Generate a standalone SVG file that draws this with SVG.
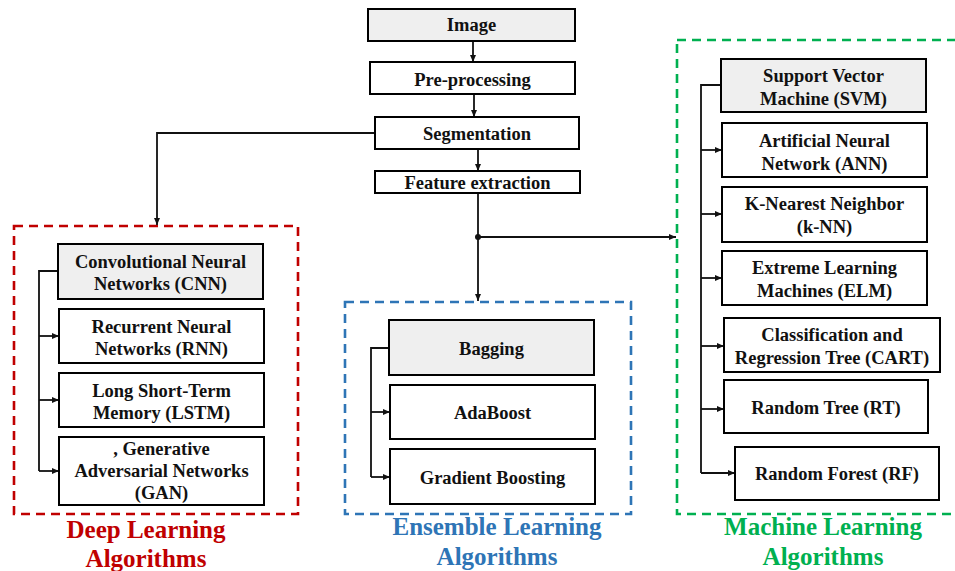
<svg xmlns="http://www.w3.org/2000/svg" width="955" height="571" viewBox="0 0 955 571">
<style>
.box{fill:#ffffff;stroke:#000;stroke-width:2}
.hd{fill:#efefef;stroke:#000;stroke-width:2}
.t{font-family:"Liberation Serif","Times New Roman",serif;font-weight:bold;font-size:18.5px;fill:#111;text-anchor:middle}
.c{fill:none;stroke:#111;stroke-width:1.8}
.grp{fill:none;stroke-width:2.6;stroke-dasharray:9 6}
.lab{font-family:"Liberation Serif","Times New Roman",serif;font-weight:bold;font-size:25px;text-anchor:middle}
</style>
<defs>
<marker id="ah" markerUnits="userSpaceOnUse" markerWidth="8" markerHeight="7" refX="7" refY="3" orient="auto">
<path d="M0,0 L7,3 L0,6 z" fill="#111"/>
</marker>
</defs>
<rect width="955" height="571" fill="#fff"/>

<g id="groups">
<rect x="14" y="226" width="284" height="288" class="grp" stroke="#c00000"/>
<rect x="345" y="302" width="286" height="212" class="grp" stroke="#2e75b6"/>
<rect x="677" y="40" width="290" height="474" class="grp" stroke="#00b050"/>
<text class="lab" fill="#c00000" x="146" y="538">Deep Learning</text>
<text class="lab" fill="#c00000" x="146" y="567">Algorithms</text>
<text class="lab" fill="#2e75b6" x="497" y="535">Ensemble Learning</text>
<text class="lab" fill="#2e75b6" x="497" y="565">Algorithms</text>
<text class="lab" fill="#00b050" x="823" y="535">Machine Learning</text>
<text class="lab" fill="#00b050" x="823" y="565">Algorithms</text>
</g>

<g id="connectors">
<line class="c" x1="473" y1="41" x2="473" y2="62" marker-end="url(#ah)"/>
<line class="c" x1="474" y1="94" x2="474" y2="117" marker-end="url(#ah)"/>
<line class="c" x1="478" y1="149" x2="478" y2="171" marker-end="url(#ah)"/>
<line class="c" x1="478" y1="193" x2="478" y2="301" marker-end="url(#ah)"/>
<circle cx="478" cy="237" r="3" fill="#111"/>
<line class="c" x1="478" y1="237" x2="676" y2="237" marker-end="url(#ah)"/>
<path class="c" d="M375,133 H157 V225" marker-end="url(#ah)"/>
<path class="c" d="M58,271 H39 V471"/>
<line class="c" x1="39" y1="336" x2="59" y2="336" marker-end="url(#ah)"/>
<line class="c" x1="39" y1="400" x2="59" y2="400" marker-end="url(#ah)"/>
<line class="c" x1="39" y1="471" x2="59" y2="471" marker-end="url(#ah)"/>
<path class="c" d="M389,348 H371 V477"/>
<line class="c" x1="371" y1="412" x2="390" y2="412" marker-end="url(#ah)"/>
<line class="c" x1="371" y1="477" x2="390" y2="477" marker-end="url(#ah)"/>
<path class="c" d="M721,85 H701 V473"/>
<line class="c" x1="701" y1="150" x2="722" y2="150" marker-end="url(#ah)"/>
<line class="c" x1="701" y1="214" x2="722" y2="214" marker-end="url(#ah)"/>
<line class="c" x1="701" y1="278" x2="722" y2="278" marker-end="url(#ah)"/>
<line class="c" x1="701" y1="346" x2="724" y2="346" marker-end="url(#ah)"/>
<line class="c" x1="701" y1="409" x2="724" y2="409" marker-end="url(#ah)"/>
<line class="c" x1="701" y1="473" x2="735" y2="473" marker-end="url(#ah)"/>
</g>

<g id="image"><rect class="hd" x="368" y="9" width="207" height="32"/><text class="t" x="471.5" y="31">Image</text></g>
<g id="preprocessing"><rect class="box" x="370" y="62" width="205" height="32"/><text class="t" x="472.5" y="86">Pre-processing</text></g>
<g id="segmentation"><rect class="box" x="375" y="117" width="204" height="32"/><text class="t" x="477" y="140">Segmentation</text></g>
<g id="feature"><rect class="box" x="375" y="171" width="205" height="22"/><text class="t" x="477.5" y="189">Feature extraction</text></g>

<g id="cnn"><rect class="hd" x="58" y="244" width="205" height="55"/><text class="t" x="160.5" y="268">Convolutional Neural</text><text class="t" x="160.5" y="290">Networks (CNN)</text></g>
<g id="rnn"><rect class="box" x="59" y="309" width="205" height="54"/><text class="t" x="161.5" y="333">Recurrent Neural</text><text class="t" x="161.5" y="355">Networks (RNN)</text></g>
<g id="lstm"><rect class="box" x="59" y="373" width="205" height="54"/><text class="t" x="161.5" y="397">Long Short-Term</text><text class="t" x="161.5" y="419">Memory (LSTM)</text></g>
<g id="gan"><rect class="box" x="59" y="437" width="205" height="68"/><text class="t" x="161.5" y="455">, Generative</text><text class="t" x="161.5" y="477">Adversarial Networks</text><text class="t" x="161.5" y="499">(GAN)</text></g>

<g id="bagging"><rect class="hd" x="389" y="320" width="205" height="55"/><text class="t" x="491.5" y="355">Bagging</text></g>
<g id="adaboost"><rect class="box" x="390" y="385" width="205" height="54"/><text class="t" x="492.5" y="419">AdaBoost</text></g>
<g id="gradient"><rect class="box" x="390" y="449" width="205" height="55"/><text class="t" x="492.5" y="484">Gradient Boosting</text></g>

<g id="svm"><rect class="hd" x="721" y="59" width="205" height="53"/><text class="t" x="823.5" y="82">Support Vector</text><text class="t" x="823.5" y="105">Machine (SVM)</text></g>
<g id="ann"><rect class="box" x="722" y="123" width="205" height="54"/><text class="t" x="824.5" y="147">Artificial Neural</text><text class="t" x="824.5" y="170">Network (ANN)</text></g>
<g id="knn"><rect class="box" x="722" y="187" width="205" height="55"/><text class="t" x="824.5" y="210">K-Nearest Neighbor</text><text class="t" x="824.5" y="233">(k-NN)</text></g>
<g id="elm"><rect class="box" x="722" y="251" width="205" height="54"/><text class="t" x="824.5" y="274">Extreme Learning</text><text class="t" x="824.5" y="297">Machines (ELM)</text></g>
<g id="cart"><rect class="box" x="724" y="318" width="216" height="54"/><text class="t" x="832" y="341">Classification and</text><text class="t" x="832" y="364">Regression Tree (CART)</text></g>
<g id="rt"><rect class="box" x="724" y="380" width="204" height="53"/><text class="t" x="826" y="414">Random Tree (RT)</text></g>
<g id="rf"><rect class="box" x="735" y="447" width="204" height="53"/><text class="t" x="837" y="480">Random Forest (RF)</text></g>
</svg>
